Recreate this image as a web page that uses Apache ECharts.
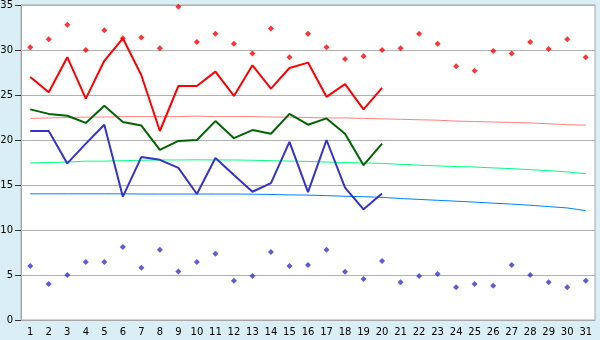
<!DOCTYPE html>
<html>
<head>
<meta charset="utf-8">
<script src="https://cdn.jsdelivr.net/npm/echarts@6/dist/echarts.min.js"></script>
<style>
html,body{margin:0;padding:0;background:#d9eef5;}
#c{width:600px;height:340px;}
</style>
</head>
<body>
<div id="c"></div>
<script>
var days = ['1','2','3','4','5','6','7','8','9','10','11','12','13','14','15','16','17','18','19','20','21','22','23','24','25','26','27','28','29','30','31'];
var yTicks = [0,5,10,15,20,25,30,35];

var maxPoints = [30.3,31.2,32.8,30.0,32.2,31.3,31.4,30.2,34.8,30.9,31.8,30.7,29.6,32.4,29.2,31.8,30.3,29.0,29.3,30.0,30.2,31.8,30.7,28.2,27.7,29.9,29.6,30.9,30.1,31.2,29.2];
var minPoints = [6.0,4.0,5.0,6.45,6.45,8.1,5.8,7.8,5.4,6.45,7.35,4.35,4.9,7.55,6.0,6.1,7.8,5.35,4.55,6.55,4.2,4.9,5.1,3.65,4.0,3.8,6.1,5.0,4.2,3.65,4.35];

var maxLine = [27.0,25.3,29.2,24.6,28.8,31.3,27.2,21.0,26.0,26.0,27.6,24.9,28.3,25.7,28.0,28.6,24.8,26.2,23.4,25.8];
var avgLine = [23.4,22.9,22.7,21.9,23.8,22.0,21.6,18.9,19.9,20.0,22.1,20.2,21.1,20.7,22.9,21.7,22.4,20.7,17.2,19.6];
var minLine = [21.0,21.0,17.4,19.6,21.7,13.7,18.1,17.8,16.9,14.0,18.0,16.1,14.25,15.2,19.8,14.2,20.0,14.7,12.3,14.05];

var maxTrend = [22.4,22.45,22.5,22.55,22.55,22.6,22.6,22.6,22.6,22.65,22.6,22.6,22.6,22.55,22.55,22.5,22.45,22.45,22.4,22.35,22.3,22.25,22.2,22.1,22.05,22.0,21.95,21.9,21.8,21.7,21.65];
var avgTrend = [17.45,17.5,17.55,17.65,17.65,17.7,17.75,17.78,17.78,17.8,17.78,17.78,17.75,17.7,17.66,17.62,17.55,17.5,17.45,17.4,17.3,17.2,17.12,17.05,17.0,16.9,16.82,16.7,16.6,16.45,16.25];
var minTrend = [14.02,14.02,14.02,14.02,14.02,14.02,14.0,14.0,14.0,14.0,14.0,14.0,13.98,13.95,13.9,13.88,13.82,13.75,13.7,13.63,13.5,13.4,13.3,13.2,13.1,12.98,12.88,12.75,12.6,12.45,12.15];

var chart = echarts.init(document.getElementById('c'), null, {renderer:'canvas'});
var font = {fontFamily:'DejaVu Sans', fontSize:10, color:'#000'};
function lineS(data, color, w, z){
  return {type:'line', data:data, symbol:'none', silent:true, animation:false, z:z,
    lineStyle:{color:color, width:w}};
}
chart.setOption({
  backgroundColor:'#d9eef5',
  animation:false,
  grid:{left:21, right:5, top:5, bottom:20, containLabel:false, outerBoundsMode:'none',
    show:true, backgroundColor:'#ffffff', borderColor:'#a8a8a8', borderWidth:1},
  xAxis:{type:'category', data:days, boundaryGap:true,
    axisLine:{lineStyle:{color:'#a8a8a8', width:1}},
    axisTick:{alignWithLabel:true, length:5, lineStyle:{color:'#333'}},
    axisLabel:Object.assign({margin:7, interval:0}, font),
    splitLine:{show:false}},
  yAxis:{type:'value', min:yTicks[0], max:yTicks[yTicks.length-1], interval:5,
    axisLine:{show:true, lineStyle:{color:'#a8a8a8', width:1}},
    axisTick:{show:true, length:6, lineStyle:{color:'#333'}},
    axisLabel:Object.assign({margin:8}, font),
    splitLine:{lineStyle:{color:'#b0b0b0', width:1}}},
  series:[
    lineS(maxTrend, '#ff8080', 1, 2),
    lineS(avgTrend, '#00ff80', 1, 2),
    lineS(minTrend, '#0080ff', 1, 2),
    lineS(maxLine, '#ff0000', 2, 3),
    lineS(avgLine, '#006400', 2, 3),
    lineS(minLine, '#3333cc', 2, 3),
    {type:'scatter', data:maxPoints, symbol:'diamond', symbolSize:6, z:4,
      itemStyle:{color:'#ff0000'}},
    {type:'scatter', data:minPoints, symbol:'diamond', symbolSize:6, z:4,
      itemStyle:{color:'#3333cc'}}
  ]
});
</script>
</body>
</html>
